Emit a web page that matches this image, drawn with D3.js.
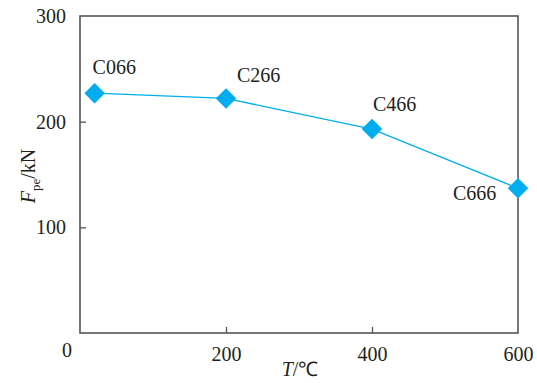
<!DOCTYPE html>
<html>
<head>
<meta charset="utf-8">
<script src="https://cdn.jsdelivr.net/npm/d3@7"></script>
<style>
  html, body { margin: 0; padding: 0; background: #fff; }
  svg { display: block; }
</style>
</head>
<body>
<svg id="chart" width="537" height="383"></svg>
<script>
// Prestress force versus temperature
const temps = [20, 200, 400, 600];
const forces = [227, 222, 193, 137];
const specimens = ["C066", "C266", "C466", "C666"];
const xTicks = [200, 400, 600];
const yTicks = [100, 200, 300];

const serif = "'Liberation Serif', 'Times New Roman', Times, serif";
const svg = d3.select("#chart");
const margin = { left: 80, right: 19, top: 16, bottom: 50 };
const W = 537, H = 383;
const x = d3.scaleLinear().domain([0, 600]).range([margin.left, W - margin.right]);
const y = d3.scaleLinear().domain([0, 300]).range([H - margin.bottom, margin.top]);

const axisColor = "#555";
const textColor = "#231f20";
const blue = "#00aeef";

// frame
svg.append("rect")
  .attr("x", x(0)).attr("y", y(300))
  .attr("width", x(600) - x(0)).attr("height", y(0) - y(300))
  .attr("fill", "none").attr("stroke", axisColor).attr("stroke-width", 1.6);

// bottom axis: inward ticks
const xAxis = svg.append("g").attr("transform", `translate(0,${y(0)})`)
  .call(d3.axisBottom(x).tickValues(xTicks).tickSizeInner(-6).tickSizeOuter(0).tickPadding(14));
xAxis.select(".domain").remove();
xAxis.selectAll("line").attr("stroke", axisColor).attr("stroke-width", 1.3);
xAxis.selectAll(".tick").filter(d => d === 600).select("line").remove();

// left axis: inward ticks
const yAxis = svg.append("g").attr("transform", `translate(${x(0)},0)`)
  .call(d3.axisLeft(y).tickValues(yTicks).tickSizeInner(-6).tickSizeOuter(0).tickPadding(14));
yAxis.select(".domain").remove();
yAxis.selectAll("line").attr("stroke", axisColor).attr("stroke-width", 1.3);
yAxis.selectAll(".tick").filter(d => d === 300).select("line").remove();

// shared origin label
svg.append("text").attr("x", x(0) - 13).attr("y", y(0) + 24)
  .attr("text-anchor", "middle").text("0");

// series line
const line = d3.line().x((d, i) => x(temps[i])).y(d => y(d));
svg.append("path").datum(forces)
  .attr("d", line).attr("fill", "none").attr("stroke", blue).attr("stroke-width", 1.3);

// diamond markers
const diamond = d3.symbol().type(d3.symbolSquare).size(210);
svg.selectAll(".pt").data(forces).enter().append("path")
  .attr("class", "pt")
  .attr("d", diamond)
  .attr("transform", (d, i) => `translate(${x(temps[i])},${y(d)}) rotate(45)`)
  .attr("fill", blue);

// specimen labels
const labelOffsets = [[-2, -19], [11, -16], [1, -18], [-65, 12]];
svg.selectAll(".lbl").data(specimens).enter().append("text")
  .attr("class", "lbl")
  .attr("x", (d, i) => x(temps[i]) + labelOffsets[i][0])
  .attr("y", (d, i) => y(forces[i]) + labelOffsets[i][1])
  .text(d => d);

// axis titles
const xt = svg.append("text").attr("x", 300).attr("y", 376)
  .attr("text-anchor", "middle");
xt.append("tspan").attr("font-style", "italic").text("T");
xt.append("tspan").text("/℃");

const yt = svg.append("text")
  .attr("transform", "translate(35,176) rotate(-90)")
  .attr("text-anchor", "middle");
yt.append("tspan").attr("font-style", "italic").text("F");
yt.append("tspan").attr("dy", 5).attr("font-size", 13).text("pe");
yt.append("tspan").attr("dy", -5).text("/kN");

// uniform serif typography
svg.selectAll("text")
  .attr("font-family", serif)
  .style("font-family", serif)
  .attr("fill", textColor)
  .style("font-size", function () { return this.tagName === "text" ? "20px" : null; });
svg.selectAll("g").attr("font-family", serif).attr("font-size", 20);
</script>
</body>
</html>
